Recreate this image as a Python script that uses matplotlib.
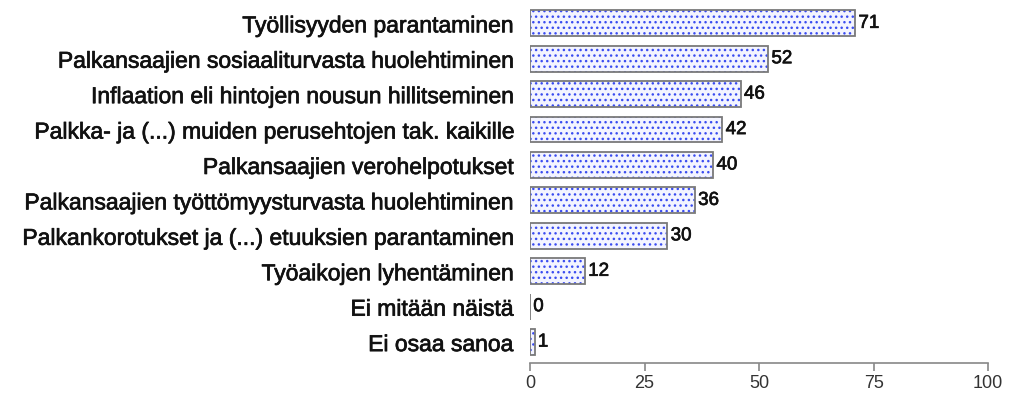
import matplotlib
matplotlib.use('Agg')
import matplotlib.pyplot as plt
import matplotlib.patheffects as pe

plt.rcParams['font.family'] = ['Liberation Sans', 'DejaVu Sans']
plt.rcParams['hatch.linewidth'] = 1.0

labels = [
    'Työllisyyden parantaminen',
    'Palkansaajien sosiaaliturvasta huolehtiminen',
    'Inflaation eli hintojen nousun hillitseminen',
    'Palkka- ja (...) muiden perusehtojen tak. kaikille',
    'Palkansaajien verohelpotukset',
    'Palkansaajien työttömyysturvasta huolehtiminen',
    'Palkankorotukset ja (...) etuuksien parantaminen',
    'Työaikojen lyhentäminen',
    'Ei mitään näistä',
    'Ei osaa sanoa',
]
values = [71, 52, 46, 42, 40, 36, 30, 12, 0, 1]
xticks = [0, 25, 50, 75, 100]

heavy = [pe.withStroke(linewidth=0.5, foreground='#111111')]

fig = plt.figure(figsize=(10.1, 3.94), dpi=100)
ax = fig.add_axes([0.5248, 0.0787, 0.4535, 0.908])

pos = list(range(len(values)))
# dotted blue fill first, then the grey outline on top
ax.barh(pos, values, height=0.73, color='#f3f4ff', edgecolor='#3a4cf0',
        linewidth=0, hatch='...')
ax.barh(pos, values, height=0.73, color='none', edgecolor='#7a7a7a',
        linewidth=1.3)

for p, v in zip(pos, values):
    ax.text(v + 0.7, p, str(v), va='center', ha='left', fontsize=13.5,
            color='#111111', path_effects=heavy)

ax.set_ylim(9.59, -0.51)
ax.set_xlim(0, 100)
ax.set_yticks(pos)
ax.set_yticklabels(labels, fontsize=16.5, color='#111111')
for t in ax.get_yticklabels():
    t.set_path_effects(heavy)
ax.tick_params(axis='y', length=0, pad=12)
ax.set_xticks(xticks)
ax.tick_params(axis='x', length=6, width=1.2, color='#888888',
               labelsize=13, labelcolor='#333333', pad=3)
for side in ['left', 'right', 'top']:
    ax.spines[side].set_visible(False)
ax.spines['bottom'].set_color('#888888')
ax.spines['bottom'].set_linewidth(1.2)

fig.savefig('out.png', dpi=100)
